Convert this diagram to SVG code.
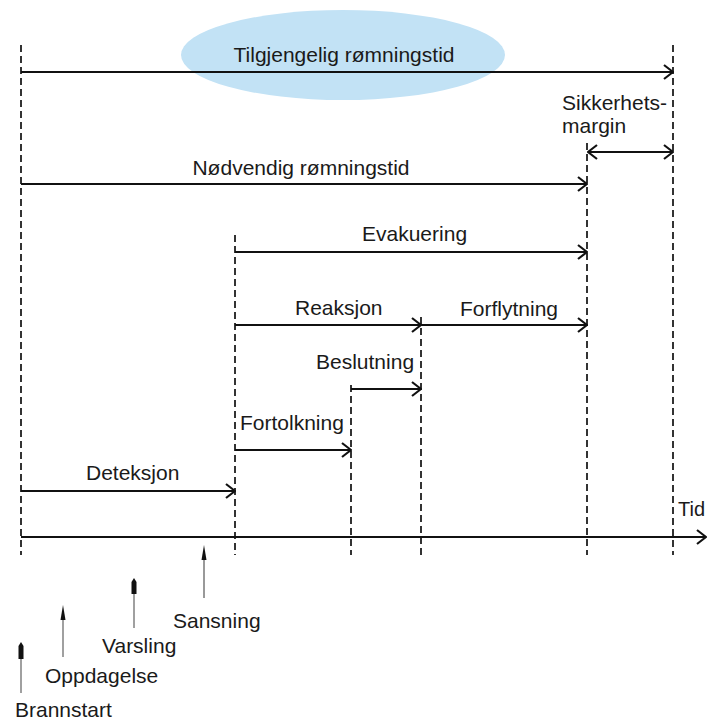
<svg xmlns="http://www.w3.org/2000/svg" width="707" height="721" viewBox="0 0 707 721">
<defs>
<marker id="open" viewBox="0 0 12 16" refX="11" refY="8" markerWidth="12" markerHeight="16" markerUnits="userSpaceOnUse" orient="auto-start-reverse">
<path d="M2,1 L11,8 L2,15" fill="none" stroke="#111" stroke-width="2.2"/>
</marker>
</defs>
<style>
text{font-family:"Liberation Sans",Arial,sans-serif;font-size:21px;fill:#1a1a1a}
.dash{stroke:#333;stroke-width:2;stroke-dasharray:7 4;fill:none}
.arr{stroke:#111;stroke-width:2.2;fill:none;marker-end:url(#open)}
.up{stroke:#a0a0a0;stroke-width:2;fill:none}
.head{fill:#111}
</style>
<rect width="707" height="721" fill="#fff"/>
<g id="bubble">
<ellipse cx="343" cy="55" rx="162" ry="45" fill="#c2e2f5"/>
</g>
<g id="guides">
<line class="dash" x1="21" y1="45" x2="21" y2="555"/>
<line class="dash" x1="235" y1="235" x2="235" y2="555"/>
<line class="dash" x1="351" y1="385" x2="351" y2="555"/>
<line class="dash" x1="421" y1="317" x2="421" y2="555"/>
<line class="dash" x1="587" y1="143" x2="587" y2="555"/>
<line class="dash" x1="673" y1="45" x2="673" y2="555"/>
</g>
<g id="connectors">
<line class="arr" x1="21" y1="72" x2="673" y2="72"/>
<line class="arr" x1="588" y1="152" x2="673" y2="152" style="marker-start:url(#open)"/>
<line class="arr" x1="21" y1="184" x2="587" y2="184"/>
<line class="arr" x1="235" y1="252" x2="587" y2="252"/>
<line class="arr" x1="235" y1="325" x2="421" y2="325"/>
<line class="arr" x1="421" y1="325" x2="587" y2="325"/>
<line class="arr" x1="351" y1="389" x2="421" y2="389"/>
<line class="arr" x1="235" y1="450" x2="351" y2="450"/>
<line class="arr" x1="21" y1="491" x2="235" y2="491"/>
<line class="arr" x1="21" y1="537" x2="706" y2="537"/>
</g>
<g id="labels">
<text x="344" y="62" text-anchor="middle">Tilgjengelig rømningstid</text>
<text x="562" y="110">Sikkerhets-</text>
<text x="562" y="133">margin</text>
<text x="301" y="175" text-anchor="middle">Nødvendig rømningstid</text>
<text x="362" y="241">Evakuering</text>
<text x="295" y="315">Reaksjon</text>
<text x="460" y="316">Forflytning</text>
<text x="316" y="369">Beslutning</text>
<text x="240" y="430">Fortolkning</text>
<text x="86" y="480">Deteksjon</text>
<text x="678" y="516" style="font-size:20px">Tid</text>
</g>
<g id="events">
<g id="brannstart">
<line class="up" x1="21" y1="650" x2="21" y2="693"/>
<polygon class="head" points="21,642 23.5,646 23.5,659 18.5,659 18.5,646"/>
<text x="15" y="717">Brannstart</text>
</g>
<g id="oppdagelse">
<line class="up" x1="63" y1="615" x2="63" y2="657"/>
<polygon class="head" points="63,605 65.5,620 60.5,620"/>
<text x="45" y="683">Oppdagelse</text>
</g>
<g id="varsling">
<line class="up" x1="134" y1="585" x2="134" y2="628"/>
<polygon class="head" points="134,578 136.5,582 136.5,594 131.5,594 131.5,582"/>
<text x="102" y="653">Varsling</text>
</g>
<g id="sansning">
<line class="up" x1="204" y1="555" x2="204" y2="598" style="stroke:#777;stroke-width:1.5"/>
<polygon class="head" points="204,545 206.5,560 201.5,560"/>
<text x="173" y="628">Sansning</text>
</g>
</g>
</svg>
